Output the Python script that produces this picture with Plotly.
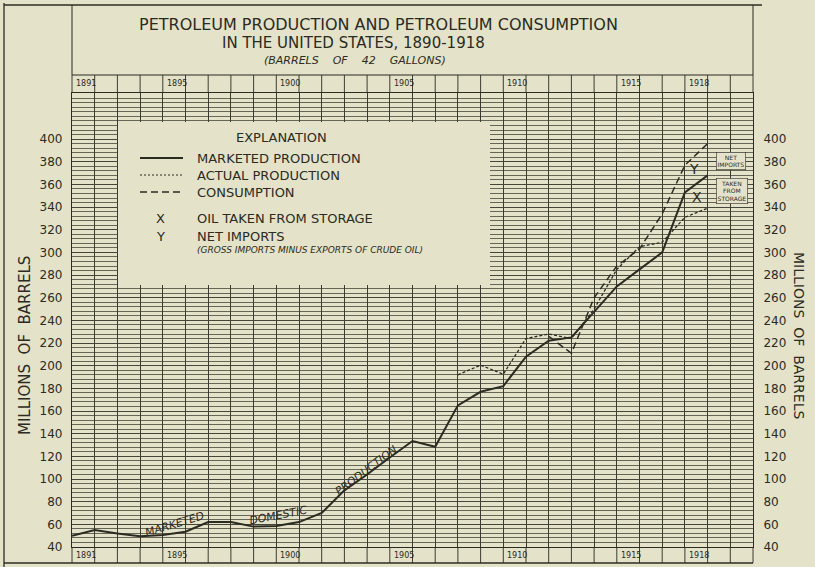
import plotly.graph_objects as go

# ---------------- data ----------------
years = list(range(1890, 1919))
marketed = [50, 55, 52, 49.5, 50.5, 53.5, 62, 62, 58, 58.5, 62, 70, 90, 104, 119,
            133.5, 128.5, 165, 177, 182, 208, 222, 225, 248, 270, 285, 300, 353, 368]
actual_years = list(range(1907, 1919))
actual = [192, 200.5, 192.5, 224, 228, 224, 250, 285, 305, 309, 331, 339]
consumption_years = list(range(1911, 1919))
consumption = [226, 211, 260, 288, 303, 334, 377, 396]
y_ticks = list(range(40, 401, 20))
label_years = [1891, 1895, 1900, 1905, 1910, 1915, 1918]

# ---------------- geometry / style ----------------
W, H = 815, 567
L, R, T, B = 72, 62, 93, 20
PW, PH = W - L - R, H - T - B
X0, X1 = 1890, 1920
Y0 = 40
Y1 = Y0 + PH / 1.133
BG = "#e4e2c9"
INK = "#2b2b22"
FONT = "DejaVu Sans"


def xp(px):
    return (px - L) / PW


def yp(py):
    return (H - B - py) / PH


fig = go.Figure()
fig.add_trace(go.Scatter(x=years, y=marketed, mode="lines",
                         line=dict(color=INK, width=2.0), name="MARKETED PRODUCTION"))
fig.add_trace(go.Scatter(x=actual_years, y=actual, mode="lines",
                         line=dict(color=INK, width=1.3, dash="3px,2px"), name="ACTUAL PRODUCTION"))
fig.add_trace(go.Scatter(x=consumption_years, y=consumption, mode="lines",
                         line=dict(color=INK, width=1.5, dash="7px,4px"), name="CONSUMPTION"))
# invisible trace to activate the right-hand axis
fig.add_trace(go.Scatter(x=[years[0]], y=[marketed[0]], yaxis="y2", mode="markers",
                         marker=dict(opacity=0), hoverinfo="skip", showlegend=False))

shapes = []
line = dict(color=INK, width=1)
# label rows (top and bottom) with year cells
for k in range(X1 - X0 + 1):
    xx = k / (X1 - X0)
    shapes.append(dict(type="line", xref="paper", yref="paper", x0=xx, x1=xx,
                       y0=yp(93), y1=yp(75), line=dict(color=INK, width=0.9)))
    shapes.append(dict(type="line", xref="paper", yref="paper", x0=xx, x1=xx,
                       y0=yp(563), y1=yp(547), line=dict(color=INK, width=0.9)))
shapes.append(dict(type="line", xref="paper", yref="paper", x0=0, x1=1,
                   y0=yp(75), y1=yp(75), line=line))
shapes.append(dict(type="line", xref="paper", yref="paper", x0=xp(4), x1=1,
                   y0=yp(563), y1=yp(563), line=dict(color=INK, width=1.5)))
# title box
shapes.append(dict(type="line", xref="paper", yref="paper", x0=0, x1=0,
                   y0=yp(75), y1=yp(5), line=line))
shapes.append(dict(type="line", xref="paper", yref="paper", x0=1, x1=1,
                   y0=yp(75), y1=yp(5), line=line))
shapes.append(dict(type="line", xref="paper", yref="paper", x0=xp(4), x1=xp(762),
                   y0=yp(5), y1=yp(5), line=dict(color=INK, width=1.3)))
# outer left frame
shapes.append(dict(type="line", xref="paper", yref="paper", x0=xp(4), x1=xp(4),
                   y0=yp(567), y1=yp(3), line=dict(color=INK, width=1.3)))
# explanation box (blank area over the grid)
shapes.append(dict(type="rect", xref="paper", yref="paper", x0=xp(118), x1=xp(490),
                   y0=yp(285), y1=yp(122), fillcolor=BG, line=dict(width=0), layer="above"))
# legend samples
for py, dash, wdt in [(158, "solid", 2.0), (175, "2px,2px", 1.2), (192, "7px,4px", 1.5)]:
    shapes.append(dict(type="line", xref="paper", yref="paper", x0=xp(140), x1=xp(183),
                       y0=yp(py), y1=yp(py), line=dict(color=INK, width=wdt, dash=dash),
                       layer="above"))

ann = []


def text(px, py, s, size=12, xanchor="center", yanchor="middle", angle=0,
         italic=False, bg=None, border=None, align="center"):
    d = dict(xref="paper", yref="paper", x=xp(px), y=yp(py), text=s, showarrow=False,
             xanchor=xanchor, yanchor=yanchor, textangle=angle, align=align,
             font=dict(family=FONT, size=size, color=INK,
                       style="italic" if italic else "normal"))
    if bg:
        d["bgcolor"] = bg
    if border:
        d["bordercolor"] = border
        d["borderwidth"] = 0.6
        d["borderpad"] = 1
    ann.append(d)


# title
text(378, 24, "PETROLEUM PRODUCTION AND PETROLEUM CONSUMPTION", size=16)
text(353, 43, "IN THE UNITED STATES, 1890-1918", size=15)
text(355, 61, "(BARRELS\u00a0\u00a0\u00a0\u00a0OF\u00a0\u00a0\u00a0\u00a042\u00a0\u00a0\u00a0\u00a0GALLONS)",
     size=11, italic=True)
# side titles
text(25, 346, "MILLIONS\u00a0 OF\u00a0 BARRELS", size=15, angle=-90)
text(799, 335, "MILLIONS\u00a0 OF\u00a0 BARRELS", size=14, angle=90)
# year labels in the label rows
for yr in label_years:
    cell_left = L + (yr - 1 - X0) * PW / (X1 - X0)
    for py in (84, 555):
        text(cell_left + 2, py, str(yr), size=8, xanchor="left")
# explanation
text(281, 137, "EXPLANATION", size=13)
text(195, 158, "MARKETED PRODUCTION", size=13, xanchor="left")
text(195, 175, "ACTUAL PRODUCTION", size=13, xanchor="left")
text(195, 192, "CONSUMPTION", size=13, xanchor="left")
text(160, 218, "X", size=13)
text(195, 218, "OIL TAKEN FROM STORAGE", size=13, xanchor="left")
text(160, 236, "Y", size=13)
text(195, 236, "NET IMPORTS", size=13, xanchor="left")
text(195, 250, "(GROSS IMPORTS MINUS EXPORTS OF CRUDE OIL)", size=9, xanchor="left", italic=True)
# labels along the curve
text(174, 524, "MARKETED", size=11, angle=-17, italic=True)
text(278, 515, "DOMESTIC", size=11, angle=-11, italic=True)
text(366, 470, "PRODUCTION", size=11, angle=-37, italic=True)
# X / Y marks and notes
text(694, 169, "Y", size=14)
text(697, 197, "X", size=14)
text(731, 161, "NET<br>IMPORTS", size=6, bg=BG, border=INK)
text(732, 191, "TAKEN<br>FROM<br>STORAGE", size=6, bg=BG, border=INK)

fig.update_layout(
    width=W, height=H, autosize=False,
    margin=dict(l=L, r=R, t=T, b=B, pad=0),
    paper_bgcolor=BG, plot_bgcolor=BG,
    showlegend=False,
    font=dict(family=FONT, color=INK),
    shapes=shapes, annotations=ann,
    xaxis=dict(range=[X0, X1], tick0=X0, dtick=1, showgrid=True, gridcolor="#3a3a30",
               gridwidth=0.9, showticklabels=False, ticks="", zeroline=False,
               showline=True, mirror=True, linecolor=INK, linewidth=1.2, fixedrange=True),
    yaxis=dict(range=[Y0, Y1], tickmode="array", tickvals=y_ticks,
               ticktext=[str(v) for v in y_ticks], showgrid=True, gridcolor="#45453a",
               gridwidth=1.0, zeroline=False, showline=True, mirror=True, linecolor=INK,
               linewidth=1.2, ticks="outside", ticklen=6, tickcolor="rgba(0,0,0,0)",
               tickfont=dict(family=FONT, size=12, color=INK),
               minor=dict(tickmode="array", tickvals=list(range(40, 441, 4)), showgrid=True,
                          gridcolor="#666656", gridwidth=0.6, ticks=""),
               fixedrange=True),
    yaxis2=dict(range=[Y0, Y1], overlaying="y", side="right", tickmode="array",
                tickvals=y_ticks, ticktext=[str(v) for v in y_ticks], showgrid=False,
                zeroline=False, ticks="outside", ticklen=7, tickcolor="rgba(0,0,0,0)",
                tickfont=dict(family=FONT, size=12, color=INK), fixedrange=True),
)

fig.write_html(
    "out.html",
    config={"displayModeBar": False},
    post_script="document.body.style.margin='0px';document.body.style.background='%s';" % BG,
)
